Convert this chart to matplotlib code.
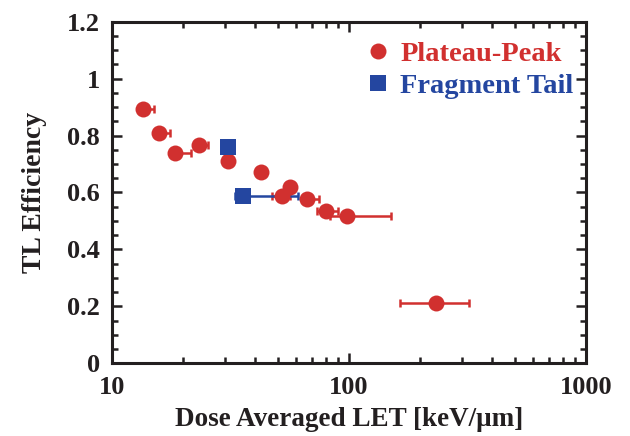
import matplotlib
matplotlib.use("Agg")
import matplotlib.pyplot as plt
import numpy as np
from matplotlib.ticker import FixedLocator, MultipleLocator, LogLocator, NullFormatter

plt.rcParams['font.family'] = ['Liberation Serif', 'DejaVu Serif']
plt.rcParams['font.weight'] = 'bold'

RED = '#d1302f'
BLUE = '#2446a0'
INK = '#231f20'

# Plateau-Peak measurements
pp_let = [13.5, 15.7, 18.4, 23.2, 30.8, 42.5, 51.9, 56.2, 66.5, 79.8, 98.4, 234]
pp_eff = [0.894, 0.810, 0.738, 0.768, 0.712, 0.671, 0.589, 0.621, 0.576, 0.535, 0.516, 0.21]
pp_err_lo = [0, 0, 0, 0, 0, 0, 4.5, 0, 0, 6.9, 15.5, 70]
pp_err_hi = [1.5, 1.8, 3.2, 2.3, 0, 0, 4.5, 0, 8.0, 10.0, 52.6, 88]

# Fragment tail measurements
ft_let = [30.8, 35.6]
ft_eff = [0.761, 0.587]
ft_err_lo = [0, 2.5]
ft_err_hi = [0, 25.4]

x_ticks = [10, 100, 1000]
x_tick_labels = ['10', '100', '1000']
y_ticks = [0, 0.2, 0.4, 0.6, 0.8, 1.0, 1.2]
y_tick_labels = ['0', '0.2', '0.4', '0.6', '0.8', '1', '1.2']

fig = plt.figure(figsize=(6.30, 4.36), dpi=100)
ax = fig.add_axes([0.178, 0.167, 0.752, 0.783])

ax.errorbar(pp_let, pp_eff, xerr=[pp_err_lo, pp_err_hi], fmt='none',
            ecolor=RED, elinewidth=1.8, capsize=3.2, capthick=1.8, zorder=2)
ax.errorbar(ft_let, ft_eff, xerr=[ft_err_lo, ft_err_hi], fmt='none',
            ecolor=BLUE, elinewidth=1.8, capsize=3.2, capthick=1.8, zorder=2)
ax.plot(pp_let, pp_eff, 'o', color=RED, markersize=11.5, markeredgewidth=0,
        label='Plateau-Peak', zorder=3)
ax.plot(ft_let, ft_eff, 's', color=BLUE, markersize=11, markeredgewidth=0,
        label='Fragment Tail', zorder=4)

ax.set_xscale('log')
ax.set_xlim(10, 1000)
ax.set_ylim(0, 1.2)

ax.xaxis.set_major_locator(FixedLocator(x_ticks))
ax.xaxis.set_minor_locator(LogLocator(base=10, subs=np.arange(2, 10)))
ax.xaxis.set_minor_formatter(NullFormatter())
ax.set_xticklabels(x_tick_labels)
ax.yaxis.set_major_locator(FixedLocator(y_ticks))
ax.yaxis.set_minor_locator(MultipleLocator(0.05))
ax.set_yticklabels(y_tick_labels)

ax.tick_params(which='both', direction='in', top=True, right=True,
               width=1.8, colors=INK, labelcolor=INK)
ax.tick_params(which='major', length=7, labelsize=19, pad=9)
ax.tick_params(which='minor', length=4)
for sp in ax.spines.values():
    sp.set_linewidth(2.2)
    sp.set_color(INK)

ax.set_xlabel('Dose Averaged LET [keV/\u03bcm]', fontsize=19.5, fontweight='bold',
              color=INK, labelpad=6)
ax.set_ylabel('TL Efficiency', fontsize=20, fontweight='bold',
              color=INK, labelpad=14)

leg = ax.legend(loc='upper right', bbox_to_anchor=(1.01, 0.995), frameon=False,
                fontsize=20.5, handlelength=0.9, handletextpad=0.35,
                labelspacing=0.22, borderaxespad=0.2, numpoints=1)
for txt, col in zip(leg.get_texts(), [RED, BLUE]):
    txt.set_color(col)
    txt.set_fontweight('bold')

fig.savefig('out.png', dpi=100)
